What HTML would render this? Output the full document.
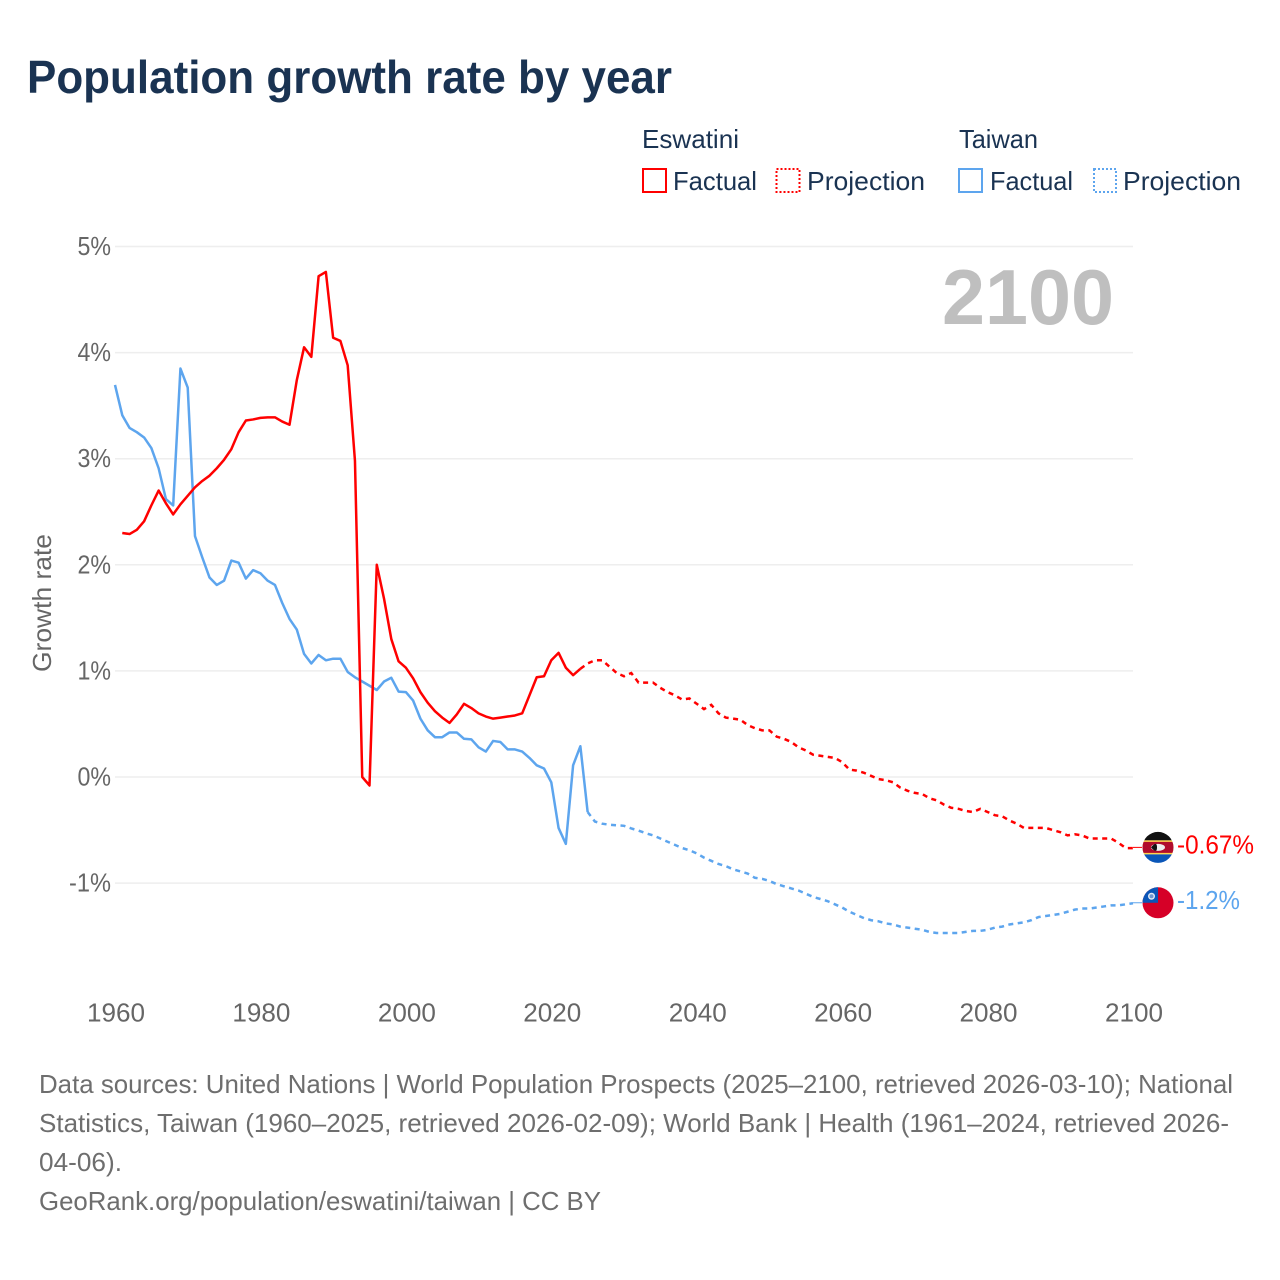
<!DOCTYPE html>
<html lang="en">
<head>
<meta charset="utf-8">
<title>Population growth rate by year</title>
<style>
html,body{margin:0;padding:0;background:#fff;width:1280px;height:1280px;overflow:hidden}
svg{display:block;font-family:"Liberation Sans",sans-serif}
</style>
</head>
<body>
<svg id="chart" width="1280" height="1280" viewBox="0 0 1280 1280" xmlns="http://www.w3.org/2000/svg">
  <rect width="1280" height="1280" fill="#fff"/>
  <text x="27" y="93" font-size="46" font-weight="700" fill="#1a3352" textLength="645" lengthAdjust="spacingAndGlyphs">Population growth rate by year</text>

  <g font-size="26" fill="#1a3352">
    <text x="642" y="148" textLength="97" lengthAdjust="spacingAndGlyphs">Eswatini</text>
    <text x="959" y="148" textLength="79" lengthAdjust="spacingAndGlyphs">Taiwan</text>
    <g>
      <rect x="643" y="169" width="23" height="23" fill="none" stroke="#ff0000" stroke-width="2"/>
      <text x="673" y="190" textLength="84" lengthAdjust="spacingAndGlyphs">Factual</text>
    </g>
    <g>
      <rect x="776.500" y="169" width="23" height="23" fill="none" stroke="#ff0000" stroke-width="2" stroke-dasharray="2 2"/>
      <text x="807" y="190" textLength="118" lengthAdjust="spacingAndGlyphs">Projection</text>
    </g>
    <g>
      <rect x="959" y="169" width="23" height="23" fill="none" stroke="#5da5ee" stroke-width="2"/>
      <text x="990" y="190" textLength="83" lengthAdjust="spacingAndGlyphs">Factual</text>
    </g>
    <g>
      <rect x="1094" y="169" width="22" height="23" fill="none" stroke="#5da5ee" stroke-width="2" stroke-dasharray="2 2"/>
      <text x="1123" y="190" textLength="118" lengthAdjust="spacingAndGlyphs">Projection</text>
    </g>
  </g>

  <text transform="translate(51,603) rotate(-90)" text-anchor="middle" font-size="26" fill="#666" textLength="138" lengthAdjust="spacingAndGlyphs">Growth rate</text>

  <g id="grid"></g>
  <g id="yticks"></g>
  <g id="xticks"></g>

  <text x="1114" y="324" text-anchor="end" font-size="78" font-weight="700" fill="#bfbfbf" textLength="172" lengthAdjust="spacingAndGlyphs">2100</text>

  <g id="series"></g>
  <g id="markers"></g>

  <g font-size="26" fill="#6e6e6e">
    <text x="39" y="1093" textLength="1194" lengthAdjust="spacingAndGlyphs">Data sources: United Nations | World Population Prospects (2025–2100, retrieved 2026-03-10); National</text>
    <text x="39" y="1132" textLength="1190" lengthAdjust="spacingAndGlyphs">Statistics, Taiwan (1960–2025, retrieved 2026-02-09); World Bank | Health (1961–2024, retrieved 2026-</text>
    <text x="39" y="1171" textLength="83" lengthAdjust="spacingAndGlyphs">04-06).</text>
    <text x="39" y="1210" textLength="562" lengthAdjust="spacingAndGlyphs">GeoRank.org/population/eswatini/taiwan | CC BY</text>
  </g>
</svg>
<script>
const yTickValues = [5, 4, 3, 2, 1, 0, -1];
const xTickYears = [1960, 1980, 2000, 2020, 2040, 2060, 2080, 2100];

const eswatiniFactualStart = 1961;
const eswatiniFactual = [2.30,2.29,2.33,2.41,2.56,2.70,2.58,2.475,2.57,2.65,2.73,2.79,2.84,2.91,2.99,3.09,3.25,3.36,3.37,3.385,3.39,3.39,3.35,3.32,3.74,4.05,3.96,4.72,4.76,4.14,4.11,3.88,2.98,0.0,-0.08,2.0,1.68,1.3,1.09,1.03,0.93,0.8,0.7,0.62,0.56,0.51,0.59,0.69,0.65,0.6,0.57,0.55,0.56,0.57,0.58,0.60,0.77,0.94,0.95,1.1,1.17,1.03,0.96,1.02];
const eswatiniProjectionStart = 2024;
const eswatiniProjection = [1.02,1.07,1.1,1.1,1.04,0.98,0.95,0.98,0.89,0.89,0.89,0.84,0.8,0.77,0.73,0.74,0.69,0.64,0.68,0.6,0.56,0.55,0.54,0.49,0.46,0.44,0.44,0.38,0.36,0.33,0.28,0.25,0.21,0.2,0.19,0.18,0.14,0.07,0.06,0.04,0.01,-0.02,-0.03,-0.05,-0.1,-0.13,-0.15,-0.16,-0.2,-0.22,-0.26,-0.29,-0.3,-0.32,-0.33,-0.3,-0.33,-0.36,-0.37,-0.41,-0.44,-0.48,-0.48,-0.48,-0.48,-0.5,-0.52,-0.55,-0.54,-0.55,-0.58,-0.58,-0.58,-0.58,-0.62,-0.67,-0.67];

const taiwanFactualStart = 1960;
const taiwanFactual = [3.695,3.41,3.29,3.25,3.2,3.1,2.91,2.62,2.56,3.85,3.67,2.27,2.07,1.88,1.81,1.85,2.04,2.02,1.87,1.95,1.92,1.85,1.81,1.64,1.49,1.39,1.16,1.07,1.15,1.1,1.115,1.115,0.99,0.94,0.9,0.86,0.82,0.9,0.935,0.805,0.8,0.72,0.55,0.44,0.375,0.375,0.42,0.42,0.36,0.355,0.28,0.24,0.34,0.33,0.26,0.26,0.24,0.18,0.11,0.08,-0.05,-0.48,-0.63,0.11,0.29,-0.33];
const taiwanProjectionStart = 2025;
const taiwanProjection = [-0.33,-0.42,-0.44,-0.45,-0.455,-0.46,-0.485,-0.505,-0.53,-0.55,-0.58,-0.61,-0.64,-0.67,-0.69,-0.72,-0.76,-0.79,-0.82,-0.84,-0.87,-0.89,-0.91,-0.95,-0.96,-0.98,-1.01,-1.03,-1.05,-1.07,-1.1,-1.13,-1.15,-1.17,-1.2,-1.23,-1.27,-1.3,-1.33,-1.35,-1.36,-1.38,-1.39,-1.41,-1.42,-1.43,-1.44,-1.46,-1.47,-1.47,-1.47,-1.47,-1.46,-1.45,-1.45,-1.44,-1.42,-1.41,-1.39,-1.38,-1.37,-1.35,-1.32,-1.31,-1.3,-1.29,-1.27,-1.25,-1.24,-1.24,-1.23,-1.22,-1.21,-1.21,-1.2,-1.19];

const endLabels = ['-0.67%', '-1.2%'];

const NS = 'http://www.w3.org/2000/svg';
const xScale = function (year) { return 115 + (year - 1960) * (1133 - 115) / 140; };
const yScale = function (v) { return 777 - v * 106.1; };

function make(tag, parent, attrs) {
  const el = document.createElementNS(NS, tag);
  Object.keys(attrs).forEach(function (k) { el.setAttribute(k, attrs[k]); });
  parent.appendChild(el);
  return el;
}

const gridG = document.getElementById('grid');
const yG = document.getElementById('yticks');
yTickValues.forEach(function (v) {
  const line = make('line', gridG, { x1: 115, x2: 1133, y1: yScale(v), y2: yScale(v), stroke: '#eeeeee', 'stroke-width': 1.5 });
  
  
  const t = make('text', yG, { x: 111, y: yScale(v) + 8.5, 'text-anchor': 'end', 'font-size': 26, fill: '#666', textLength: v < 0 ? 42 : 33.5, lengthAdjust: 'spacingAndGlyphs' });
  
  
  t.textContent = v + '%';
});

const xG = document.getElementById('xticks');
xTickYears.forEach(function (year) {
  const t = make('text', xG, { x: xScale(year) + 1, y: 1021.5, 'text-anchor': 'middle', 'font-size': 26, fill: '#666', textLength: 58, lengthAdjust: 'spacingAndGlyphs' });
  
  
  t.textContent = year;
});

function pathFrom(startYear, values) {
  return values.map(function (v, i) {
    return (i ? 'L' : 'M') + xScale(startYear + i).toFixed(2) + ' ' + yScale(v).toFixed(2);
  }).join(' ');
}

const seriesG = document.getElementById('series');

const tf = make('path', seriesG, { d: pathFrom(taiwanFactualStart, taiwanFactual), fill: 'none', stroke: '#5da5ee', 'stroke-width': 2.5, 'stroke-linejoin': 'round' });



const tp = make('path', seriesG, { d: pathFrom(taiwanProjectionStart, taiwanProjection), fill: 'none', stroke: '#5da5ee', 'stroke-width': 2.5, 'stroke-dasharray': '5 4.5' });



const ef = make('path', seriesG, { d: pathFrom(eswatiniFactualStart, eswatiniFactual), fill: 'none', stroke: '#ff0000', 'stroke-width': 2.5, 'stroke-linejoin': 'round' });



const ep = make('path', seriesG, { d: pathFrom(eswatiniProjectionStart, eswatiniProjection), fill: 'none', stroke: '#ff0000', 'stroke-width': 2.5, 'stroke-dasharray': '5 4.5' });



const markersG = document.getElementById('markers');
const redY = yScale(eswatiniProjection[eswatiniProjection.length - 1]) - 0.7;
const blueY = yScale(taiwanProjection[taiwanProjection.length - 1]) - 0.5;
const cx = 1158;

const redLead = make('line', markersG, { x1: 1133, x2: 1142, y1: redY, y2: redY, stroke: '#ff0000', 'stroke-width': 1 });


const blueLead = make('line', markersG, { x1: 1133, x2: 1142, y1: blueY, y2: blueY, stroke: '#5da5ee', 'stroke-width': 1 });



const defs = make('defs', markersG, {});
const c1 = make('clipPath', defs, { id: 'clipRed' });
make('circle', c1, { cx: cx, cy: redY, r: 15.5 });
const c2 = make('clipPath', defs, { id: 'clipBlue' });
make('circle', c2, { cx: cx, cy: blueY, r: 15.5 });

const flagE = make('g', markersG, { 'clip-path': 'url(#clipRed)' });


make('rect', flagE, { x: cx - 16, y: redY - 16, width: 32, height: 9, fill: '#111' });
make('rect', flagE, { x: cx - 16, y: redY - 7, width: 32, height: 14, fill: '#ffd34d' });
make('rect', flagE, { x: cx - 16, y: redY - 5.5, width: 32, height: 11, fill: '#b10c2c' });
make('rect', flagE, { x: cx - 16, y: redY + 7, width: 32, height: 9, fill: '#0a56b8' });
make('ellipse', flagE, { cx: cx, cy: redY, rx: 7, ry: 3.5, fill: '#eee' });
make('path', flagE, { d: 'M' + (cx - 7) + ' ' + redY + ' Q' + (cx - 1) + ' ' + (redY - 7) + ' ' + (cx - 1) + ' ' + redY + ' Q' + (cx - 1) + ' ' + (redY + 7) + ' ' + (cx - 7) + ' ' + redY + 'Z', fill: '#111' });

const flagT = make('g', markersG, { 'clip-path': 'url(#clipBlue)' });


make('rect', flagT, { x: cx - 16, y: blueY - 16, width: 32, height: 32, fill: '#d60027' });
make('rect', flagT, { x: cx - 16, y: blueY - 16, width: 16, height: 16, fill: '#0a56b8' });
make('circle', flagT, { cx: cx - 6.5, cy: blueY - 6.5, r: 3.5, fill: '#dfe8f5' });
make('circle', flagT, { cx: cx - 6.5, cy: blueY - 6.5, r: 2, fill: '#6f96cf' });

const lblE = make('text', markersG, { x: 1177, y: redY + 6, 'font-size': 26, fill: '#ff0000', textLength: 77, lengthAdjust: 'spacingAndGlyphs' });


lblE.textContent = endLabels[0];

const lblT = make('text', markersG, { x: 1177, y: blueY + 6, 'font-size': 26, fill: '#5da5ee', textLength: 63, lengthAdjust: 'spacingAndGlyphs' });


lblT.textContent = endLabels[1];
</script>
</body>
</html>
